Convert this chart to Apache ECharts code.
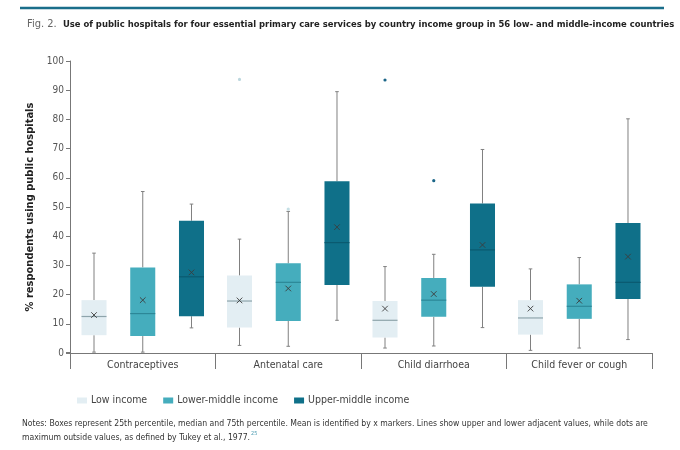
<!DOCTYPE html>
<html lang="en">
<head>
    <meta charset="utf-8"/>
    <title>Fig. 2 Use of public hospitals</title>
    <script src="https://cdn.jsdelivr.net/npm/echarts@6/dist/echarts.min.js"></script>
    <style>
        html, body {
            height: 100%;
            margin: 0;
            background: #fff;
        }

        .chart {
            width: 680px;
            height: 450px;
        }
    </style>
</head>
<body>
<div class="chart"></div>
<script>
    const FONT = "'Liberation Sans Narrow', 'DejaVu Sans Condensed', 'Roboto', sans-serif";

    const categories = ["Contraceptives", "Antenatal care", "Child diarrhoea", "Child fever or cough"];
    const groups = ["Low income", "Lower-middle income", "Upper-middle income"];
    const yTicks = [0, 10, 20, 30, 40, 50, 60, 70, 80, 90, 100];

    // [lower adjacent, 25th, median, 75th, upper adjacent] per category
    const lowIncome = [
        [0.3, 6.1, 12.5, 18.1, 34.2],
        [2.6, 8.7, 17.8, 26.5, 39.0],
        [1.7, 5.3, 11.2, 17.8, 29.6],
        [0.9, 6.3, 12.0, 18.1, 28.8]
    ];
    const lowerMiddle = [
        [0.3, 5.8, 13.5, 29.3, 55.3],
        [2.3, 11.0, 24.2, 30.7, 48.5],
        [2.4, 12.4, 18.1, 25.7, 33.8],
        [1.7, 11.7, 16.0, 23.5, 32.7]
    ];
    const upperMiddle = [
        [8.6, 12.6, 26.1, 45.3, 51.0],
        [11.2, 23.3, 37.8, 58.8, 89.5],
        [8.7, 22.7, 35.3, 51.2, 69.7],
        [4.6, 18.5, 24.2, 44.5, 80.2]
    ];
    const lowMeans = [13.0, 18.0, 15.2, 15.2];
    const lowerMiddleMeans = [18.1, 22.1, 20.2, 17.9];
    const upperMiddleMeans = [27.6, 43.1, 37.0, 33.0];

    // outside values: [category index, group index, value]
    const outliers = [
        [1, 0, 93.7],
        [1, 1, 49.3],
        [2, 0, 93.5],
        [2, 1, 59.0]
    ];
    const outlierColorByPoint = ["#bcd7de", "#c5dfe5", "#1b6688", "#1b6688"];

    const fills = ["#e3eef3", "#45adbd", "#0f7089"];
    const medianColors = ["#8ea4ab", "#2c8797", "#0a5a70"];

    function groupOffset(gi, w) {
        return (gi - 1) * 0.335 * w;
    }

    function makeRender(gi) {
        return function (params, api) {
            const c = api.value(0);
            const w = api.size([1, 0])[0];
            const bw = 0.172 * w;
            const x = api.coord([c, 0])[0] + groupOffset(gi, w);
            const y = v => api.coord([c, v])[1];
            const lo = y(api.value(1)), q1 = y(api.value(2)), md = y(api.value(3)),
                q3 = y(api.value(4)), hi = y(api.value(5)), mn = y(api.value(6));
            const grey = {stroke: "#808080", lineWidth: 1};
            const m = 2.8;
            return {
                type: "group",
                children: [
                    {type: "line", shape: {x1: x, y1: hi, x2: x, y2: q3}, style: grey},
                    {type: "line", shape: {x1: x, y1: q1, x2: x, y2: lo}, style: grey},
                    {type: "line", shape: {x1: x - 1.8, y1: hi, x2: x + 1.8, y2: hi}, style: grey},
                    {type: "line", shape: {x1: x - 1.8, y1: lo, x2: x + 1.8, y2: lo}, style: grey},
                    {type: "rect", shape: {x: x - bw / 2, y: q3, width: bw, height: q1 - q3}, style: {fill: fills[gi]}},
                    {type: "line", shape: {x1: x - bw / 2, y1: md, x2: x + bw / 2, y2: md}, style: {stroke: medianColors[gi], lineWidth: 1.2}},
                    {type: "line", shape: {x1: x - m, y1: mn - m, x2: x + m, y2: mn + m}, style: {stroke: "#3c3c3c", lineWidth: 0.9}},
                    {type: "line", shape: {x1: x - m, y1: mn + m, x2: x + m, y2: mn - m}, style: {stroke: "#3c3c3c", lineWidth: 0.9}}
                ]
            };
        };
    }

    function renderOutlier(params, api) {
        const c = api.value(0);
        const gi = api.value(1);
        const w = api.size([1, 0])[0];
        const p = api.coord([c, api.value(2)]);
        return {
            type: "circle",
            shape: {cx: p[0] + groupOffset(gi, w), cy: p[1], r: 1.6},
            style: {fill: outlierColorByPoint[params.dataIndex]}
        };
    }

    function seriesData(stats, means) {
        return stats.map((s, i) => [i].concat(s, [means[i]]));
    }

    const allStats = [lowIncome, lowerMiddle, upperMiddle];
    const allMeans = [lowMeans, lowerMiddleMeans, upperMiddleMeans];

    const series = groups.map((name, gi) => ({
        name: name,
        type: "custom",
        renderItem: makeRender(gi),
        itemStyle: {color: fills[gi]},
        encode: {x: 0, y: [1, 2, 3, 4, 5, 6]},
        data: seriesData(allStats[gi], allMeans[gi])
    }));
    series.push({
        name: "outside",
        type: "custom",
        renderItem: renderOutlier,
        encode: {x: 0, y: 2},
        data: outliers
    });

    const chart = echarts.init(document.querySelector(".chart"));
    chart.setOption({
        animation: false,
        textStyle: {fontFamily: FONT},
        title: {
            left: 22,
            top: 14,
            text: "Fig. 2.  {b|Use of public hospitals for four essential primary care services by country income group in 56 low- and middle-income countries}",
            textStyle: {
                fontFamily: FONT,
                fontSize: 11,
                fontWeight: "normal",
                color: "#666",
                rich: {
                    b: {fontFamily: FONT, fontSize: 9.4, fontWeight: "bold", color: "#222"}
                }
            }
        },
        legend: {
            data: groups,
            left: 72,
            top: 390,
            icon: "rect",
            itemWidth: 10,
            itemHeight: 6,
            itemGap: 16,
            textStyle: {fontFamily: FONT, fontSize: 10.5, color: "#444", padding: [0, 0, 0, -1]}
        },
        grid: {left: 70, right: 28, top: 61, bottom: 97},
        xAxis: {
            type: "category",
            data: categories,
            axisLine: {lineStyle: {color: "#777", width: 1}},
            axisTick: {show: true, length: 16, interval: 0, lineStyle: {color: "#777"}},
            axisLabel: {fontFamily: FONT, fontSize: 10.5, color: "#444", margin: 7}
        },
        yAxis: {
            type: "value",
            min: 0,
            max: 100,
            interval: 10,
            name: "% respondents using public hospitals",
            nameLocation: "middle",
            nameGap: 34,
            nameTextStyle: {fontFamily: FONT, fontSize: 11, fontWeight: "bold", color: "#222"},
            axisLine: {show: true, lineStyle: {color: "#777", width: 1}},
            axisTick: {show: true, length: 4, lineStyle: {color: "#777"}},
            axisLabel: {
                fontFamily: FONT, fontSize: 10, color: "#555", margin: 6,
                formatter: v => (yTicks.indexOf(v) >= 0 ? String(v) : "")
            },
            splitLine: {show: false}
        },
        graphic: [
            {
                type: "line",
                shape: {x1: 20, y1: 8, x2: 664, y2: 8},
                style: {stroke: "#1a6e8a", lineWidth: 2.5}
            },
            {
                type: "line",
                shape: {x1: 66, y1: 352.5, x2: 70, y2: 352.5},
                style: {stroke: "#777", lineWidth: 1}
            },
            {
                type: "text",
                left: 22,
                top: 417,
                style: {
                    text: "Notes: Boxes represent 25th percentile, median and 75th percentile. Mean is identified by x markers. Lines show upper and lower adjacent values, while dots are\nmaximum outside values, as defined by Tukey et al., 1977.{s|25}",
                    font: "8.6px " + FONT,
                    fill: "#333",
                    lineHeight: 14,
                    rich: {
                        s: {fontSize: 5.5, fontFamily: FONT, fill: "#4a9ab0", verticalAlign: "top", lineHeight: 14, padding: [0, 0, 5, 1]}
                    }
                }
            }
        ],
        series: series
    });
</script>
</body>
</html>
